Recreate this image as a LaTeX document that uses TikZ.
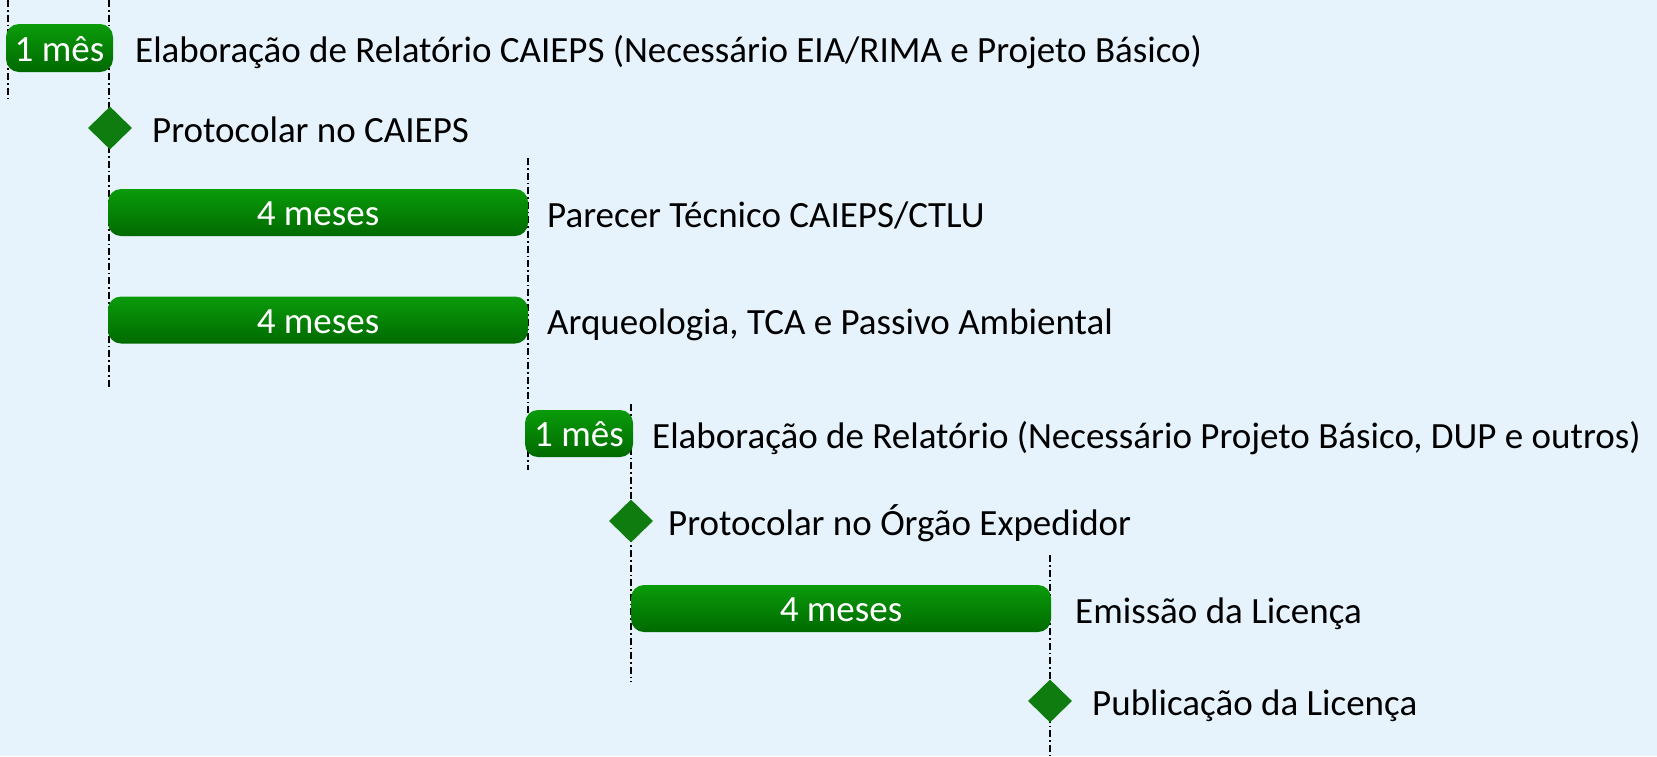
\documentclass[tikz,border=0pt]{standalone}
\usepackage{fontspec}
\setmainfont{Carlito}
\usepackage{tikz}
\usetikzlibrary{shapes.geometric}
\definecolor{bgblue}{RGB}{230,243,253}
\definecolor{barTop}{RGB}{10,155,10}
\definecolor{barBot}{RGB}{0,106,0}
\definecolor{msGreen}{RGB}{14,124,14}
\tikzset{bar/.style={rounded corners=13pt, top color=barTop, bottom color=barBot,
    text=white, inner sep=0pt, text height=26pt, text depth=0pt, font=\fontsize{37}{44}\selectfont}}
\tikzset{ms/.style={diamond, fill=msGreen, inner sep=0pt, minimum width=44pt, minimum height=43pt}}
\tikzset{lbl/.style={anchor=base west, inner sep=0pt, font=\fontsize{37}{44}\selectfont}}
\tikzset{guide/.style={line width=1.7pt, dash pattern=on 7pt off 3pt on 1.6pt off 3pt}}

\begin{document}
\begin{tikzpicture}[x=1pt,y=-1pt]
        \useasboundingbox[fill=bgblue] (0,0) rectangle (1657,756);
        % guides
        \coordinate (g1a) at (8,0);      \coordinate (g1b) at (8,98);
        \coordinate (g2a) at (109,0);    \coordinate (g2b) at (109,389);
        \coordinate (g3a) at (528,158);  \coordinate (g3b) at (528,470);
        \coordinate (g4a) at (631,404);  \coordinate (g4b) at (631,682);
        \coordinate (g5a) at (1050,555); \coordinate (g5b) at (1050,756);
        \draw[guide] (g1a) -- (g1b);
        \draw[guide] (g2a) -- (g2b);
        \draw[guide] (g3a) -- (g3b);
        \draw[guide] (g4a) -- (g4b);
        \draw[guide] (g5a) -- (g5b);
        % bars
        \node[bar, minimum width=107pt, minimum height=48pt] (bar1) at (59.5,48) {1 mês};
        \node[bar, minimum width=420pt, minimum height=47pt] (bar2) at (318,212.5) {4 meses};
        \node[bar, minimum width=420pt, minimum height=47pt] (bar3) at (318,320) {4 meses};
        \node[bar, minimum width=108pt, minimum height=47pt] (bar4) at (579,433.5) {1 mês};
        \node[bar, minimum width=420pt, minimum height=47pt] (bar5) at (841,608.5) {4 meses};
        % milestones
        \node[ms] (ms1) at (110,128) {};
        \node[ms] (ms2) at (631,521) {};
        \node[ms] (ms3) at (1050,701) {};
        % labels
        \node[lbl] (t1) at (135,62.5) {Elaboração de Relatório CAIEPS (Necessário EIA/RIMA e Projeto Básico)};
        \node[lbl] (t2) at (152,142.5) {Protocolar no CAIEPS};
        \node[lbl] (t3) at (547,227) {Parecer Técnico CAIEPS/CTLU};
        \node[lbl] (t4) at (547,334.5) {Arqueologia, TCA e Passivo Ambiental};
        \node[lbl] (t5) at (652,448) {Elaboração de Relatório (Necessário Projeto Básico, DUP e outros)};
        \node[lbl] (t6) at (668,535.5) {Protocolar no Órgão Expedidor};
        \node[lbl] (t7) at (1075,623) {Emissão da Licença};
        \node[lbl] (t8) at (1092,715.5) {Publicação da Licença};
      \end{tikzpicture}
\end{document}
